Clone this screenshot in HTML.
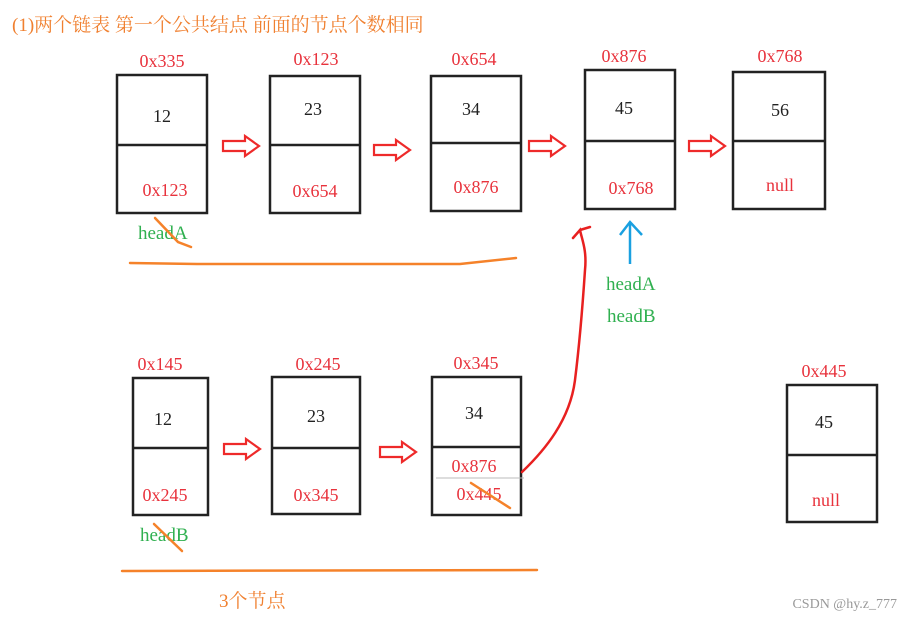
<!DOCTYPE html>
<html><head><meta charset="utf-8"><style>
html,body{margin:0;padding:0;background:#fff;width:902px;height:617px;overflow:hidden}
svg text{font-family:"Liberation Serif","Noto Serif CJK SC",serif}
</style></head><body>
<svg width="902" height="617" viewBox="0 0 902 617" xmlns="http://www.w3.org/2000/svg">
<defs>
<g id="ar"><path d="M0,-5 H22 V-10 L36,0 L22,10 V5 H0 Z" fill="#fff" stroke="#ee2a2a" stroke-width="2.2" stroke-linejoin="miter"/></g>
</defs>
<text x="12" y="31" font-size="19" fill="#f08030">(1)两个链表  第一个公共结点  前面的节点个数相同</text>
<g fill="none" stroke="#222" stroke-width="2.5">
<rect x="117" y="75" width="90" height="138"/><line x1="117" y1="145" x2="207" y2="145"/>
<rect x="270" y="76" width="90" height="137"/><line x1="270" y1="145" x2="360" y2="145"/>
<rect x="431" y="76" width="90" height="135"/><line x1="431" y1="143" x2="521" y2="143"/>
<rect x="585" y="70" width="90" height="139"/><line x1="585" y1="141" x2="675" y2="141"/>
<rect x="733" y="72" width="92" height="137"/><line x1="733" y1="141" x2="825" y2="141"/>
<rect x="133" y="378" width="75" height="137"/><line x1="133" y1="448" x2="208" y2="448"/>
<rect x="272" y="377" width="88" height="137"/><line x1="272" y1="448" x2="360" y2="448"/>
<rect x="432" y="377" width="89" height="138"/><line x1="432" y1="447" x2="521" y2="447"/>
<rect x="787" y="385" width="90" height="137"/><line x1="787" y1="455" x2="877" y2="455"/>
</g>
<line x1="436" y1="478" x2="524" y2="478" stroke="#bbb" stroke-width="1"/>
<use href="#ar" x="223" y="146"/><use href="#ar" x="374" y="150"/><use href="#ar" x="529" y="146"/><use href="#ar" x="689" y="146"/>
<use href="#ar" x="224" y="449"/><use href="#ar" x="380" y="452"/>
<g font-size="18" fill="#e8323c" text-anchor="middle">
<text x="162" y="67">0x335</text><text x="316" y="65">0x123</text><text x="474" y="65">0x654</text><text x="624" y="62">0x876</text><text x="780" y="62">0x768</text>
<text x="165" y="196">0x123</text><text x="315" y="197">0x654</text><text x="476" y="193">0x876</text><text x="631" y="194">0x768</text><text x="780" y="191">null</text>
<text x="160" y="370">0x145</text><text x="318" y="370">0x245</text><text x="476" y="369">0x345</text><text x="824" y="377">0x445</text>
<text x="165" y="501">0x245</text><text x="316" y="501">0x345</text><text x="474" y="472">0x876</text><text x="479" y="500">0x445</text><text x="826" y="506">null</text>
</g>
<g font-size="18" fill="#222" text-anchor="middle">
<text x="162" y="122">12</text><text x="313" y="115">23</text><text x="471" y="115">34</text><text x="624" y="114">45</text><text x="780" y="116">56</text>
<text x="163" y="425">12</text><text x="316" y="422">23</text><text x="474" y="419">34</text><text x="824" y="428">45</text>
</g>
<g font-size="19" fill="#30b050">
<text x="138" y="239">headA</text><text x="140" y="541">headB</text>
<text x="606" y="290">headA</text><text x="607" y="322">headB</text>
</g>
<text x="219" y="607" font-size="19" fill="#f08030">3个节点</text>
<g stroke="#f5822a" stroke-width="2.5" fill="none" stroke-linecap="round">
<path d="M130,263 L197,264 L460,264 L516,258"/>
<path d="M122,571 L537,570"/>
<path d="M155,218 L178,242 L191,247"/>
<path d="M154,524 L182,551"/>
<path d="M471,483 L510,508"/>
</g>
<path d="M522,472 C545,450 570,420 575,380 C580,340 583,300 585,270 C587,250 582,240 580,230 L573,238 M580,230 L590,227" fill="none" stroke="#e82020" stroke-width="2.5" stroke-linecap="round"/>
<g stroke="#1aa0e0" stroke-width="2.5" fill="none">
<line x1="630" y1="264" x2="630" y2="222"/><path d="M620,235 L630,222 L642,235"/>
</g>
<text x="897" y="608" font-size="14" fill="#999" text-anchor="end" font-family="Liberation Sans,sans-serif">CSDN @hy.z_777</text>
</svg>
</body></html>
